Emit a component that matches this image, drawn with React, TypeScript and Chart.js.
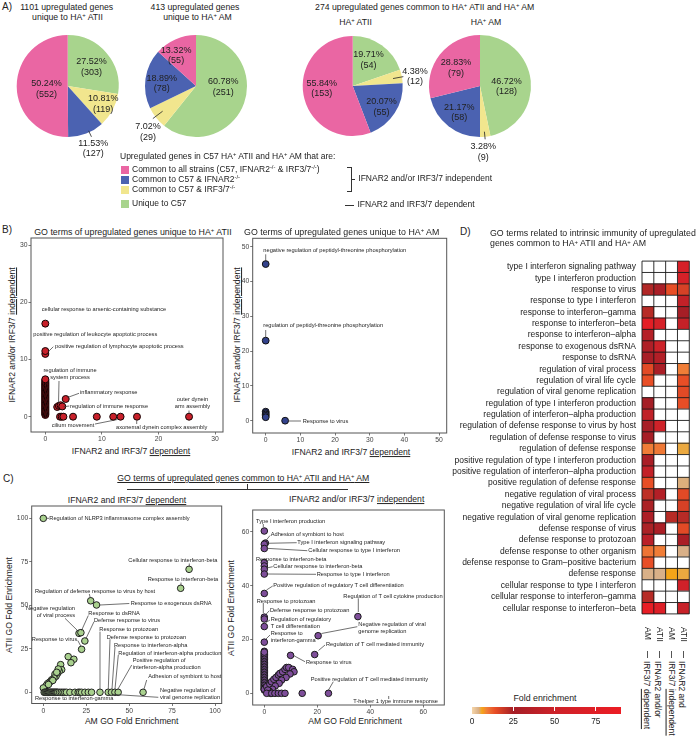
import React, { useEffect, useRef } from "react";
import { Chart, registerables } from "chart.js";
Chart.register(...registerables);

const FONT = "'Liberation Sans', Arial, Helvetica, sans-serif";
const INK = "#222";

// ================= Panel A: pie data (slices clockwise from 12 o'clock) =================
const pieCategories = ["Unique to C57", "Common to C57 & IRF3/7-/-", "Common to C57 & IFNAR2-/-", "Common to all strains"];
const pieColors = ["#A8D48D", "#F1E68E", "#4B62B1", "#EA66A3"];
const atiiUniqueCounts = [303, 119, 127, 552];
const atiiUniquePct = [27.52, 10.81, 11.53, 50.24];
const amUniqueCounts = [251, 29, 78, 55];
const amUniquePct = [60.78, 7.02, 18.89, 13.32];
const atiiCommonCounts = [54, 12, 55, 153];
const atiiCommonPct = [19.71, 4.38, 20.07, 55.84];
const amCommonCounts = [128, 9, 58, 79];
const amCommonPct = [46.72, 3.28, 21.17, 28.83];

// ================= Panel B: GO term scatter =================
const bAtiiDependent = [
  0, 0, 0, 0, 0, 0, 0, 0, 0, 0, 0, 0, 0, 0, 0, 0, 0, 0, 0, 0, 0,
  0, 0, 0, 0, 0, 0, 0, 0, 0, 0, 0, 0, 0, 0, 0, 0, 0, 0, 0, 0, 0,
  0, 0, 0, 2.1, 2.4, 2.7, 3.0, 3.6, 2.6, 2.9, 3.2, 4.9, 9.1, 12.0, 13.3, 16.2, 25.4];
const bAtiiIndependent = [
  0.3, 0.45, 0.6, 0.75, 0.9, 1.05, 1.2, 1.35, 1.5, 1.65, 1.8, 1.95, 2.1, 2.25, 2.4, 2.55, 2.7, 2.85, 3.0, 3.15, 3.3,
  3.45, 3.6, 3.75, 3.9, 4.05, 4.2, 4.35, 4.5, 4.65, 4.8, 4.95, 5.1, 5.25, 5.4, 5.55, 5.7, 5.85, 6.0, 6.2, 6.4, 6.55,
  11.0, 11.5, 16.3, 1.7, 1.9, 2.0, 1.8, 3.1, 0, 0, 0, 0, 0, 0, 0, 0, 0];
const bAmDependent = [0, 0, 0, 0, 0, 0, 0, 5.6];
const bAmIndependent = [45.0, 23.0, 2.6, 2.2, 1.8, 1.4, 1.0, 0];
const bAtiiTicks = [0, 10, 20, 30];
const bAmTicks = [0, 10, 20, 30, 40, 50];

// ================= Panel C: AM vs ATII fold enrichment =================
const cDepAm = [0, 84.9, 80, 27.6, 31, 20.8, 21.9, 24.2, 22.3, 14.5, 17.8, 16.1,
  10.1, 10.7, 9.3, 8.7, 8.2, 7.4, 6.8, 6.2, 4.9, 4.3, 3.5, 2.5, 1.6, 0, 5.5, 7.8, 3.0,
  0.5, 1.0, 1.5, 2.0, 2.5, 3.0, 3.5, 4.0, 4.5, 5.0, 5.5, 6.0, 6.5, 7.0, 7.5, 8.0, 8.5, 9.5, 10.5, 11.5, 12.5, 13.5,
  15.5, 18.4, 20.3, 21.2, 22.3, 24.2, 26.2, 28.1, 33, 37.8, 39.7, 41.7, 43.6, 58.1];
const cDepAtii = [100, 70.7, 59.8, 52.6, 50.2, 33.9, 34.3, 29.5, 24.7, 20.5, 19.0, 17.0,
  15.9, 13.0, 12.1, 13.4, 10.7, 9.2, 10.4, 8.2, 7.2, 6.3, 5.7, 5.0, 3.8, 2.5, 6.8, 11.5, 4.5,
  0, 0, 0, 0, 0, 0, 0, 0, 0, 0, 0, 0, 0, 0, 0, 0, 0, 0, 0, 0, 0, 0,
  0, 0, 0, 0, 0, 0, 0, 0, 0, 0, 0, 0, 0, 0];
const cIndAm = [0, 0.4, 0, 0, 0, 0, 0, 0, 0, 0, 0, 0, 0, 35.3, 20.3, 19.0, 9.9,
  0, 0, 0, 0, 0, 0, 0, 0, 0, 0, 0, 0, 0, 0, 0, 0, 0, 0, 0, 0, 0, 0, 0, 0, 0,
  0, 0, 0, 0, 0, 0, 0, 0, 0, 0, 0, 0, 0, 0, 0, 0, 0, 0, 0, 0, 0, 0, 0, 0, 0,
  0.9, 2.1, 2.7, 3.6, 4.4, 5.3, 5.9, 6.9, 7.8, 8.4, 9.2, 10.7, 11.2, 9.7, 8.2, 6.5, 5.6, 4.1, 3.1, 1.9, 1.3, 2.3,
  0.9, 2.8, 4.0, 5.3, 6.5, 7.8, 14.3, 24.2, 46.8];
const cIndAtii = [60.3, 55.8, 55.4, 53.8, 48.6, 47.3, 46.1, 44.3, 37.1, 28.3, 27.6, 24.8, 19.0, 28.5, 21.4, 14.4, 14.1,
  1.2, 1.8, 2.4, 3.0, 3.6, 4.2, 4.8, 5.4, 6.0, 6.6, 7.2, 7.8, 8.4, 9.0, 9.6, 10.2, 10.8, 11.4, 12.0, 12.6, 13.2, 13.8, 14.4, 15.0, 15.6,
  1.5, 2.1, 2.7, 3.3, 3.9, 4.5, 5.1, 5.7, 6.3, 6.9, 7.5, 8.1, 8.7, 9.3, 9.9, 10.5, 11.1, 11.7, 12.3, 12.9, 13.5, 14.1, 14.7, 15.3,
  1.5, 2.5, 3.4, 4.3, 5.2, 5.9, 6.8, 7.4, 8.0, 8.9, 9.6, 9.6, 8.9, 8.0, 7.2, 5.9, 4.9, 3.7, 2.7, 1.5, 0.8, 1.2,
  0, 0, 0, 0, 0, 0, 0, 0, 0];
const cDepTicks = [0, 25, 50, 75, 100];
const cIndTicks = [0, 20, 40, 60];

// ================= Panel D: heatmap =================
const goTerms = [
  "type I interferon signaling pathway", "type I interferon production", "response to virus",
  "response to type I interferon", "response to interferon–gamma", "response to interferon–beta",
  "response to interferon–alpha", "response to exogenous dsRNA", "response to dsRNA",
  "regulation of viral process", "regulation of viral life cycle", "regulation of viral genome replication",
  "regulation of type I interferon production", "regulation of interferon–alpha production",
  "regulation of defense response to virus by host", "regulation of defense response to virus",
  "regulation of defense response", "positive regulation of type I interferon production",
  "positive regulation of interferon–alpha production", "positive regulation of defense response",
  "negative regulation of viral process", "negative regulation of viral life cycle",
  "negative regulation of viral genome replication", "defense response of virus",
  "defense response to protozoan", "defense response to other organism",
  "defense response to Gram–positive bacterium", "defense response",
  "cellular response to type I interferon", "cellular response to interferon–gamma",
  "cellular response to interferon–beta",
];
const heatCols = ["AM", "ATII", "AM", "ATII"];
const foldAmDep = [null, null, 23, null, 22, 80, 35, 31, 27, 15, 14, null, 25, 42, 27, 26, 9, 28, 44, 14, 21, 24, 30, 24, 38, 10, 14, 4, null, 22, 85];
const foldAtiiDep = [null, null, 28, null, null, 60, null, 50, 33, 28, null, null, null, null, 52, null, 9.5, null, null, null, 34, null, null, 29, null, 9, null, 4, null, null, 70];
const foldAmIndep = [null, null, 14, null, null, null, null, null, null, null, null, null, null, null, null, null, null, null, null, null, null, null, 22, null, null, null, null, 6, null, null, null];
const foldAtiiIndep = [62, 60, 17, 43, 25, 45, null, null, null, 9, 14, 15, 14, null, null, null, 5.3, null, null, 4.2, 15, 17, 22, 15, 28, 4, null, 5.3, 54, null, 47];
const colorbarTicks = [0, 25, 50, 75];
const FOLD_MAX = 90;

const colorStops: [number, number[]][] = [
  [0, [246, 214, 168]], [4, [217, 176, 136]], [6, [245, 165, 25]], [9, [240, 125, 55]],
  [14, [232, 78, 38]], [25, [165, 30, 38]], [50, [205, 34, 41]], [90, [236, 28, 36]],
];
function foldColor(v: number) {
  for (let i = 1; i < colorStops.length; i++) {
    const [v1, c1] = colorStops[i];
    const [v0, c0] = colorStops[i - 1];
    if (v <= v1) {
      const t = (v - v0) / (v1 - v0);
      const c = c0.map((a, k) => Math.round(a + (c1[k] - a) * t));
      return `rgb(${c[0]},${c[1]},${c[2]})`;
    }
  }
  const c = colorStops[colorStops.length - 1][1];
  return `rgb(${c[0]},${c[1]},${c[2]})`;
}

// ================= helpers =================
function ChartCanvas({ L, T, W, H, make }: any) {
  const ref = useRef<HTMLCanvasElement>(null);
  useEffect(() => {
    const ch = make(ref.current);
    return () => ch.destroy();
  }, []);
  return <canvas ref={ref} width={W} height={H} style={{ position: "absolute", left: L, top: T, width: W, height: H }} />;
}

type PieLab = { da: number; k: number; line?: number[] };

function makePie(o: any) {
  return (canvas: HTMLCanvasElement) => {
    const { L, T, W, H, cx, cy, r, counts, pcts, labs } = o;
    const hw = Math.min(cx - L, L + W - cx);
    const hh = Math.min(cy - T, T + H - cy);
    return new Chart(canvas, {
      type: "pie",
      data: { labels: pieCategories, datasets: [{ data: counts, backgroundColor: pieColors, borderWidth: 0 }] },
      options: {
        responsive: false, animation: false, events: [], radius: r,
        layout: { padding: { left: cx - hw - L, right: L + W - cx - hw, top: cy - hh - T, bottom: T + H - cy - hh } },
        plugins: { legend: { display: false }, tooltip: { enabled: false } },
      } as any,
      plugins: [{
        id: "pieLabels",
        afterDatasetsDraw(chart: any) {
          const ctx = chart.ctx;
          const meta = chart.getDatasetMeta(0);
          ctx.save();
          ctx.font = `9px ${FONT}`;
          ctx.fillStyle = INK;
          ctx.strokeStyle = INK;
          ctx.lineWidth = 0.8;
          ctx.textAlign = "center";
          ctx.textBaseline = "middle";
          meta.data.forEach((el: any, i: number) => {
            const p = el.getProps(["x", "y", "startAngle", "endAngle", "outerRadius"], true);
            const mid = (p.startAngle + p.endAngle) / 2;
            const lb: PieLab = labs[i];
            const a = mid + (lb.da * Math.PI) / 180;
            const lx = p.x + Math.cos(a) * lb.k * p.outerRadius;
            const ly = p.y + Math.sin(a) * lb.k * p.outerRadius;
            ctx.fillText(pcts[i].toFixed(2) + "%", lx, ly - 5);
            ctx.fillText("(" + counts[i] + ")", lx, ly + 5.5);
            if (lb.line) {
              const [d, r1, r2] = lb.line;
              const b = mid + (d * Math.PI) / 180;
              ctx.beginPath();
              ctx.moveTo(p.x + Math.cos(b) * r1 * p.outerRadius, p.y + Math.sin(b) * r1 * p.outerRadius);
              ctx.lineTo(p.x + Math.cos(b) * r2 * p.outerRadius, p.y + Math.sin(b) * r2 * p.outerRadius);
              ctx.stroke();
            }
          });
          ctx.restore();
        },
      }],
    });
  };
}

type Ann = { t: string[]; x: number; y: number; align?: CanvasTextAlign; line?: number[] };

function makeScatter(o: any) {
  return (canvas: HTMLCanvasElement) => {
    const { L, T, W, H, area, xr, yr, xTicks, yTicks, xs, ys, fill, stroke, radius, anns } = o;
    const tickStyle = { font: { size: 6.8, family: FONT }, color: "#444", padding: 1, maxRotation: 0, autoSkip: false };
    const gridStyle = { drawOnChartArea: false, drawTicks: true, tickLength: 2.5, color: "#555", lineWidth: 0.8 };
    return new Chart(canvas, {
      type: "scatter",
      data: {
        datasets: [{
          data: xs.map((x: number, i: number) => ({ x, y: ys[i] })),
          backgroundColor: fill, borderColor: stroke, borderWidth: 1,
          pointRadius: radius, pointHoverRadius: radius,
        }],
      },
      options: {
        responsive: false, animation: false, events: [],
        layout: { padding: { left: 0, top: area.t - T, right: L + W - area.r, bottom: 0 } },
        plugins: { legend: { display: false }, tooltip: { enabled: false } },
        scales: {
          x: {
            type: "linear", min: xr[0], max: xr[1],
            afterBuildTicks: (s: any) => { s.ticks = xTicks.map((v: number) => ({ value: v })); },
            afterFit: (s: any) => { s.height = T + H - area.b; },
            grid: gridStyle, border: { display: false }, ticks: tickStyle,
          },
          y: {
            type: "linear", min: yr[0], max: yr[1],
            afterBuildTicks: (s: any) => { s.ticks = yTicks.map((v: number) => ({ value: v })); },
            afterFit: (s: any) => { s.width = area.l - L; },
            grid: gridStyle, border: { display: false }, ticks: tickStyle,
          },
        },
      } as any,
      plugins: [{
        id: "frameAnn",
        afterDatasetsDraw(chart: any) {
          const ctx = chart.ctx;
          const a = chart.chartArea;
          ctx.save();
          ctx.strokeStyle = "#555";
          ctx.lineWidth = 1;
          ctx.strokeRect(a.left, a.top, a.right - a.left, a.bottom - a.top);
          ctx.strokeStyle = "#333";
          ctx.lineWidth = 0.7;
          ctx.fillStyle = INK;
          ctx.font = `5.7px ${FONT}`;
          ctx.textBaseline = "middle";
          anns.forEach((an: Ann) => {
            if (an.line) {
              ctx.beginPath();
              ctx.moveTo(an.line[0] - L, an.line[1] - T);
              ctx.lineTo(an.line[2] - L, an.line[3] - T);
              ctx.stroke();
            }
            ctx.textAlign = an.align || "left";
            an.t.forEach((s, k) => ctx.fillText(s, an.x - L, an.y - T + k * 7));
          });
          ctx.restore();
        },
      }],
    });
  };
}

function makeHeat(o: any) {
  return (canvas: HTMLCanvasElement) => {
    const { L, T, W, H, area } = o;
    const cols = [foldAmDep, foldAtiiDep, foldAmIndep, foldAtiiIndep];
    return new Chart(canvas, {
      type: "bar",
      data: {
        labels: goTerms,
        datasets: cols.map((vals, j) => ({
          label: heatCols[j],
          data: goTerms.map(() => 1),
          backgroundColor: vals.map((v: any) => (v == null ? "#ffffff" : foldColor(v))),
          borderWidth: 0, barPercentage: 1, categoryPercentage: 1,
        })),
      },
      options: {
        indexAxis: "y", responsive: false, animation: false, events: [],
        layout: { padding: { left: 0, top: area.t - T, right: L + W - area.r, bottom: T + H - area.b } },
        plugins: { legend: { display: false }, tooltip: { enabled: false } },
        scales: {
          x: { stacked: true, min: 0, max: 4, display: false },
          y: {
            stacked: true, grid: { display: false, drawTicks: false }, border: { display: false },
            ticks: { font: { size: 8.5, family: FONT }, color: INK, padding: 6, autoSkip: false },
            afterFit: (s: any) => { s.width = area.l - L; },
          },
        },
      } as any,
      plugins: [{
        id: "heatGrid",
        afterDatasetsDraw(chart: any) {
          const { ctx, chartArea: a, scales } = chart;
          const n = goTerms.length;
          const h = (a.bottom - a.top) / n;
          ctx.save();
          ctx.strokeStyle = "#1a1a1a";
          ctx.lineWidth = 0.9;
          ctx.beginPath();
          for (let j = 0; j <= 4; j++) {
            const px = scales.x.getPixelForValue(j);
            ctx.moveTo(px, a.top);
            ctx.lineTo(px, a.bottom);
          }
          for (let i = 0; i <= n; i++) {
            const py = a.top + i * h;
            ctx.moveTo(a.left, py);
            ctx.lineTo(a.right, py);
          }
          ctx.stroke();
          ctx.restore();
        },
      }],
    });
  };
}

const Sup = ({ children }: any) => (
  <span style={{ fontSize: "0.68em", position: "relative", top: "-0.45em" }}>{children}</span>
);

function Txt({ x, y, size = 8.6, anchor = "middle", rot = 0, children, style = {} }: any) {
  const tx = anchor === "middle" ? "-50%" : anchor === "end" ? "-100%" : "0%";
  return (
    <div style={{
      position: "absolute", left: x, top: y,
      transform: `translate(${tx},-50%)` + (rot ? ` rotate(${rot}deg)` : ""),
      fontSize: size, lineHeight: 1.15, whiteSpace: "nowrap", ...style,
    }}>{children}</div>
  );
}

const Line = ({ x, y, w, h, c = "#333" }: any) => (
  <div style={{ position: "absolute", left: x, top: y, width: w, height: h, background: c }} />
);

// ================= annotations (page px) =================
const annBAtii: Ann[] = [
  { t: ["cellular response to arsenic-containing substance"], x: 41.7, y: 309.3 },
  { t: ["positive regulation of leukocyte apoptotic process"], x: 33.3, y: 334.3 },
  { t: ["positive regulation of lymphocyte apoptotic process"], x: 55, y: 346, line: [48.3, 351.7, 53.3, 346.7] },
  { t: ["regulation of immune", "system process"], x: 70, y: 370, align: "center", line: [59, 381, 58.5, 404] },
  { t: ["inflammatory response"], x: 80, y: 392.7, line: [67.5, 397.5, 79, 393.3] },
  { t: ["regulation of immune response"], x: 70, y: 406, line: [63.5, 406.7, 69.3, 406] },
  { t: ["outer dynein", "arm assembly"], x: 192.5, y: 399, align: "center", line: [189, 410.5, 189, 413.5] },
  { t: ["cilium movement"], x: 51.7, y: 425, line: [95, 424, 117.5, 419.5] },
  { t: ["axonemal dynein complex assembly"], x: 116, y: 427.3, line: [136.7, 420.5, 136.7, 424] },
];
const annBAm: Ann[] = [
  { t: ["negative regulation of peptidyl-threonine phosphorylation"], x: 263.3, y: 250, line: [265.7, 254.3, 265.7, 261.5] },
  { t: ["regulation of peptidyl-threonine phosphorylation"], x: 263.3, y: 325, line: [265.7, 330, 265.7, 337.5] },
  { t: ["Response to virus"], x: 302.7, y: 421.7, line: [288, 421, 301, 421] },
];
const annCDep: Ann[] = [
  { t: ["Regulation of NLRP3 inflammasome complex assembly"], x: 49.3, y: 518.3, line: [46.5, 518.3, 49, 518.3] },
  { t: ["Cellular response to interferon-beta"], x: 128.3, y: 560.7, line: [189.3, 563.5, 189.3, 566.5] },
  { t: ["Response to interferon-beta"], x: 147.7, y: 579.3, line: [181, 582.5, 181, 585.5] },
  { t: ["Regulation of defense response to virus by host"], x: 35, y: 591.7, line: [89.3, 594, 90.3, 598] },
  { t: ["Response to exogenous dsRNA"], x: 130.7, y: 603.3, line: [100, 605, 129.3, 603.5] },
  { t: ["Negative regulation", "of viral process"], x: 75, y: 608.3, align: "right", line: [65, 618.3, 78, 631] },
  { t: ["Response to dsRNA"], x: 88.3, y: 613.3, line: [88.3, 615.5, 81.5, 630.5] },
  { t: ["Defense response to virus"], x: 94, y: 620, line: [94, 621.7, 86, 638.5] },
  { t: ["Response to protozoan"], x: 99.3, y: 629.3, line: [100, 631.7, 100, 689] },
  { t: ["Response to virus"], x: 77.3, y: 639.3, align: "right", line: [77.8, 640.5, 81, 646.5] },
  { t: ["Defense response to protozoan"], x: 106.7, y: 637.3, line: [110, 639.3, 108.3, 689] },
  { t: ["Response to interferon-alpha"], x: 114, y: 645, line: [115, 646.7, 112, 689] },
  { t: ["Regulation of interferon-alpha production"], x: 118.3, y: 653.3, line: [118.3, 655, 115, 689] },
  { t: ["Positive regulation of", "interferon-alpha production"], x: 132.7, y: 660.7, line: [131.7, 665, 117.7, 689.5] },
  { t: ["Adhesion of symbiont to host"], x: 148.3, y: 676.7, line: [146.7, 680, 144, 689] },
  { t: ["Negative regulation of", "viral genome replication"], x: 160, y: 690, line: [158.3, 697.3, 111.7, 694.3] },
  { t: ["Response to interferon-gamma"], x: 35, y: 698.3, line: [79.3, 696.5, 80, 695] },
];
const annCInd: Ann[] = [
  { t: ["Type I interferon production"], x: 256, y: 521.7, line: [263.3, 524, 263.3, 527] },
  { t: ["Adhesion of symbiont to host"], x: 270.7, y: 534, line: [266, 540.5, 270, 535.5] },
  { t: ["Type I interferon signaling pathway"], x: 297.3, y: 542.7, line: [266.5, 543.3, 296.7, 542.7] },
  { t: ["Cellular response to type I interferon"], x: 308.3, y: 550.7, line: [266.5, 548.3, 307.3, 550.7] },
  { t: ["Response to interferon-beta"], x: 256, y: 559.3 },
  { t: ["Cellular response to interferon-beta"], x: 273.3, y: 566.7, line: [266.5, 568, 272.7, 566.7] },
  { t: ["Response to type I interferon"], x: 316.7, y: 574.3, line: [266.5, 574, 316, 574.3] },
  { t: ["Positive regulation of regulatory T cell differentiation"], x: 273.3, y: 585.7, line: [266.5, 590, 272.7, 586] },
  { t: ["Response to protozoan"], x: 256.7, y: 601, line: [263.3, 603, 263.3, 613] },
  { t: ["Defense response to protozoan"], x: 270, y: 610, line: [265.8, 614.5, 269.3, 610.7] },
  { t: ["Regulation of regulatory", "T cell differentiation"], x: 270.7, y: 619, line: [266, 622.5, 270, 620] },
  { t: ["Response to", "interferon-gamma"], x: 270.7, y: 633.3, line: [265.5, 639.5, 270, 635] },
  { t: ["Regulation of T cell cytokine production"], x: 343.3, y: 596, line: [358.3, 598.3, 358.3, 612] },
  { t: ["Negative regulation of viral", "genome replication"], x: 358.3, y: 624.3, line: [321.5, 633.5, 357.3, 626.7] },
  { t: ["Regulation of T cell mediated immunity"], x: 326, y: 644, line: [318.5, 650.5, 325, 645] },
  { t: ["Response to virus"], x: 306, y: 662.3, line: [293.5, 655.5, 305, 661.7] },
  { t: ["Positive regulation of T cell mediated immunity"], x: 310.7, y: 679, line: [333.3, 681.7, 328.5, 690] },
  { t: ["T-helper 1 type immune response"], x: 353.3, y: 701.7, line: [388.7, 696, 388.7, 699] },
];

// ================= pie label placement =================
const labsP1: PieLab[] = [{ da: 1.7, k: 0.6 }, { da: -1.7, k: 0.78 }, { da: -1.1, k: 1.32, line: [-3.8, 0.97, 1.1] }, { da: -7.8, k: 0.42 }];
const labsP2: PieLab[] = [{ da: -17.9, k: 0.535 }, { da: -5.1, k: 1.3, line: [1.5, 0.82, 1.06] }, { da: -3.1, k: 0.675 }, { da: -8.8, k: 0.72 }];
const labsP3: PieLab[] = [{ da: -4.5, k: 0.61 }, { da: 2.1, k: 1.26, line: [0.7, 0.82, 1.03] }, { da: 2.7, k: 0.71 }, { da: 6.3, k: 0.62 }];
const labsP4: PieLab[] = [{ da: 6.5, k: 0.52 }, { da: 3, k: 1.29, line: [0.4, 0.9, 1.05] }, { da: 0, k: 0.66 }, { da: -0.8, k: 0.59 }];

const pies = [
  { L: 0, T: 20, W: 140, H: 150, cx: 67.7, cy: 86, r: 51, counts: atiiUniqueCounts, pcts: atiiUniquePct, labs: labsP1 },
  { L: 126, T: 20, W: 140, H: 150, cx: 196, cy: 86, r: 51, counts: amUniqueCounts, pcts: amUniquePct, labs: labsP2 },
  { L: 283, T: 20, W: 150, H: 150, cx: 352.7, cy: 86, r: 50, counts: atiiCommonCounts, pcts: atiiCommonPct, labs: labsP3 },
  { L: 410, T: 20, W: 140, H: 150, cx: 480, cy: 86, r: 51, counts: amCommonCounts, pcts: amCommonPct, labs: labsP4 },
];

const scatters = [
  { L: 0, T: 228, W: 232, H: 218, area: { l: 31, t: 238, r: 223, b: 432 }, xr: [-2.53, 31.4], yr: [-2.68, 31.3], xTicks: bAtiiTicks, yTicks: bAtiiTicks, xs: bAtiiDependent, ys: bAtiiIndependent, fill: "#C8202A", stroke: "#140303", radius: 3.5, anns: annBAtii },
  { L: 228, T: 228, W: 225, H: 218, area: { l: 252.7, t: 238.3, r: 446.7, b: 433 }, xr: [-3.75, 52.2], yr: [-3.53, 52.4], xTicks: bAmTicks, yTicks: bAmTicks, xs: bAmDependent, ys: bAmIndependent, fill: "#33428C", stroke: "#111", radius: 3.4, anns: annBAm },
  { L: 0, T: 496, W: 232, H: 220, area: { l: 31.7, t: 506, r: 221.7, b: 703.5 }, xr: [-6.76, 103.9], yr: [-6.44, 107.1], xTicks: cDepTicks, yTicks: cDepTicks, xs: cDepAm, ys: cDepAtii, fill: "#A9D18E", stroke: "#222", radius: 3.3, anns: annCDep },
  { L: 228, T: 496, W: 225, H: 220, area: { l: 252.7, t: 510, r: 444.3, b: 705 }, xr: [-4.38, 67.9], yr: [-4.34, 68.1], xTicks: cIndTicks, yTicks: cIndTicks, xs: cIndAm, ys: cIndAtii, fill: "#7E4E9A", stroke: "#1a1a1a", radius: 3.3, anns: annCInd },
];

const heat = { L: 430, T: 250, W: 262, H: 375, area: { l: 642, t: 255.5, r: 689.3, b: 621 } };

const legendRows = [
  { c: pieColors[3], t: <>Common to all strains (C57, IFNAR2<Sup>-/-</Sup> &amp; IRF3/7<Sup>-/-</Sup>)</>, y: 170 },
  { c: pieColors[2], t: <>Common to C57 &amp; IFNAR2<Sup>-/-</Sup></>, y: 180 },
  { c: pieColors[1], t: <>Common to C57 &amp; IRF3/7<Sup>-/-</Sup></>, y: 189.5 },
  { c: pieColors[0], t: <>Unique to C57</>, y: 204.3 },
];

export default function App() {
  const cb0 = 472, cbScale = 1.65;
  const grad = "linear-gradient(to right, " + colorStops.map(([v, c]) => `rgb(${c.join(",")}) ${(v / FOLD_MAX) * 100}%`).join(", ") + ")";
  const colW = (heat.area.r - heat.area.l) / 4;
  return (
    <div style={{ position: "absolute", left: 0, top: 0, width: 696, height: 737, background: "#fff", overflow: "hidden", fontFamily: FONT, color: INK }}>
      {/* Panel letters */}
      <Txt x={2} y={7} size={10} anchor="start">A)</Txt>
      <Txt x={2} y={230} size={10} anchor="start">B)</Txt>
      <Txt x={3} y={479} size={10} anchor="start">C)</Txt>
      <Txt x={460} y={231.7} size={10} anchor="start">D)</Txt>

      {/* Panel A titles */}
      <Txt x={66.7} y={6.7} size={8.7}>1101 upregulated genes</Txt>
      <Txt x={67.5} y={16.7} size={8.7}>unique to HA<Sup>+</Sup> ATII</Txt>
      <Txt x={195} y={6.7} size={8.7}>413 upregulated genes</Txt>
      <Txt x={197.5} y={16.7} size={8.7}>unique to HA<Sup>+</Sup> AM</Txt>
      <Txt x={424.7} y={6.7} size={8.7}>274 upregulated genes common to HA<Sup>+</Sup> ATII and HA<Sup>+</Sup> AM</Txt>
      <Txt x={355.5} y={21.7} size={8.7}>HA<Sup>+</Sup> ATII</Txt>
      <Txt x={486} y={21.7} size={8.7}>HA<Sup>+</Sup> AM</Txt>

      {pies.map((p, i) => <ChartCanvas key={"p" + i} L={p.L} T={p.T} W={p.W} H={p.H} make={makePie(p)} />)}

      {/* Panel A legend */}
      <Txt x={120} y={156.7} size={8.5} anchor="start">Upregulated genes in C57 HA<Sup>+</Sup> ATII and HA<Sup>+</Sup> AM that are:</Txt>
      {legendRows.map((r, i) => (
        <React.Fragment key={"lg" + i}>
          <div style={{ position: "absolute", left: 121, top: r.y - 4, width: 8, height: 8, background: r.c }} />
          <Txt x={132} y={r.y} size={8.5} anchor="start">{r.t}</Txt>
        </React.Fragment>
      ))}
      <Line x={346.5} y={166.5} w={4.5} h={0.9} />
      <Line x={350.5} y={166.5} w={0.9} h={25.5} />
      <Line x={346.5} y={191.2} w={4.5} h={0.9} />
      <Line x={350.5} y={179} w={4} h={0.9} />
      <Txt x={358.3} y={179.3} size={8.5} anchor="start">IFNAR2 and/or IRF3/7 independent</Txt>
      <Line x={345} y={204.5} w={9} h={0.9} />
      <Txt x={357.5} y={204.8} size={8.5} anchor="start">IFNAR2 and IRF3/7 dependent</Txt>

      {/* Panel B titles */}
      <Txt x={133} y={231.7} size={8.8}>GO terms of upregulated genes unique to HA<Sup>+</Sup> ATII</Txt>
      <Txt x={341.7} y={231.7} size={8.8}>GO terms of upregulated genes unique to HA<Sup>+</Sup> AM</Txt>
      <Txt x={131} y={451.7} size={8.6}>IFNAR2 and IRF3/7 <u>dependent</u></Txt>
      <Txt x={351} y={452.7} size={8.6}>IFNAR2 and IRF3/7 <u>dependent</u></Txt>
      <Txt x={13.3} y={335} size={8.6} rot={-90}>IFNAR2 and/or IRF3/7 <u>independent</u></Txt>
      <Txt x={238.3} y={335} size={8.6} rot={-90}>IFNAR2 and/or IRF3/7 <u>independent</u></Txt>

      {/* Panel C titles */}
      <Txt x={117.3} y={478} size={8.7} anchor="start"><u>GO terms of upregulated genes common to HA<Sup>+</Sup> ATII and HA<Sup>+</Sup> AM</u></Txt>
      <Line x={127} y={489.2} w={221} h={1.1} />
      <Line x={246.6} y={483.5} w={1.1} h={6} />
      <Txt x={127} y={500.5} size={8.6}>IFNAR2 and IRF3/7 <u>dependent</u></Txt>
      <Txt x={356.7} y={499.5} size={8.6}>IFNAR2 and/or IRF3/7 <u>independent</u></Txt>
      <Txt x={131.7} y={721.7} size={8.6}>AM GO Fold Enrichment</Txt>
      <Txt x={355} y={721.7} size={8.6}>AM GO Fold Enrichment</Txt>
      <Txt x={10} y={604.5} size={8.6} rot={-90}>ATII GO Fold Enrichment</Txt>
      <Txt x={232} y={607.5} size={8.6} rot={-90}>ATII GO Fold Enrichment</Txt>

      {scatters.map((s, i) => <ChartCanvas key={"s" + i} L={s.L} T={s.T} W={s.W} H={s.H} make={makeScatter(s)} />)}

      {/* Panel D */}
      <Txt x={490} y={233.3} size={8.8} anchor="start">GO terms related to intrinsic immunity of upregulated</Txt>
      <Txt x={490} y={243.3} size={8.8} anchor="start">genes common to HA<Sup>+</Sup> ATII and HA<Sup>+</Sup> AM</Txt>
      <ChartCanvas L={heat.L} T={heat.T} W={heat.W} H={heat.H} make={makeHeat(heat)} />
      {heatCols.map((c, j) => {
        const cx = heat.area.l + colW * (j + 0.5);
        return (
          <React.Fragment key={"hc" + j}>
            <div style={{ position: "absolute", left: cx, top: 627, transform: "translateX(-50%)", writingMode: "vertical-rl", fontSize: 8.5, lineHeight: 1, whiteSpace: "nowrap" }}>{c}</div>
            <Line x={cx - 0.45} y={650.5} w={0.9} h={7} c="#555" />
          </React.Fragment>
        );
      })}
      <div style={{ position: "absolute", left: 652, top: 661, transform: "translateX(-50%)", writingMode: "vertical-rl", fontSize: 8.5, lineHeight: "10.5px", whiteSpace: "nowrap" }}>
        IFNAR2 and/or<br />IRF3/7 <u>dependent</u>
      </div>
      <div style={{ position: "absolute", left: 676.7, top: 661, transform: "translateX(-50%)", writingMode: "vertical-rl", fontSize: 8.5, lineHeight: "10.5px", whiteSpace: "nowrap" }}>
        IFNAR2 and<br />IRF3/7 <u>independent</u>
      </div>

      {/* colour bar */}
      <Txt x={545} y={698} size={8.8}>Fold enrichment</Txt>
      <div style={{ position: "absolute", left: cb0, top: 707, width: FOLD_MAX * cbScale, height: 7, background: grad }} />
      {colorbarTicks.map((v) => (
        <React.Fragment key={"cb" + v}>
          {v > 0 && <Line x={cb0 + v * cbScale - 0.5} y={707} w={1} h={3.5} c="#fff" />}
          <Txt x={cb0 + v * cbScale} y={721.5} size={8.3}>{v}</Txt>
        </React.Fragment>
      ))}
    </div>
  );
}
